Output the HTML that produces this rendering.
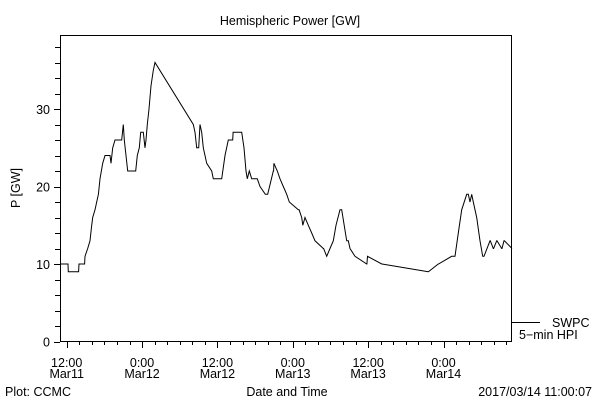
<!DOCTYPE html>
<html><head><meta charset="utf-8"><style>
html,body{margin:0;padding:0;background:#fff}
svg{display:block}
text{font-family:"Liberation Sans",sans-serif;font-size:12.5px;fill:#000}
</style></head><body>
<svg id="chart" width="600" height="400" viewBox="0 0 600 400">
<text x="290" y="25" text-anchor="middle" font-size="14">Hemispheric Power [GW]</text>
<rect x="60.5" y="35.5" width="451" height="306" fill="none" stroke="#000"/>
<g id="yaxis"></g>
<g id="xaxis"></g>
<text transform="translate(20,188) rotate(-90)" text-anchor="middle">P [GW]</text>
<text x="287" y="396" text-anchor="middle">Date and Time</text>
<text x="5" y="396">Plot: CCMC</text>
<text x="592" y="396" text-anchor="end">2017/03/14 11:00:07</text>
<polyline id="series" fill="none" stroke="#000" stroke-width="1"/>
<g>
<line x1="512" y1="322.5" x2="540" y2="322.5" stroke="#000"/>
<text x="552" y="327">SWPC</text>
<text x="519" y="339">5−min HPI</text>
</g>
</svg>
<script>
const times=[-0.96,0.2,0.25,1.9,1.96,2.85,2.91,3.34,3.71,3.98,4.14,4.51,4.78,5.04,5.30,5.73,6.10,6.9,7.05,7.32,7.69,8.76,9.01,9.17,9.44,9.71,10.08,10.99,11.24,11.56,11.78,12.2,12.47,12.63,12.83,13.1,13.42,13.79,14.06,20.16,20.43,20.7,21.02,21.23,21.5,21.75,22.02,22.29,23.09,23.34,24.68,25.2,25.73,26.43,26.5,27.87,28.23,28.55,28.76,29.08,29.46,30.35,30.78,31.62,32.0,32.9,32.95,33.0,33.54,33.96,34.49,35.03,35.45,36.88,37.0,37.42,37.6,37.95,38.47,39.01,39.54,40.86,40.9,41.4,41.93,42.45,42.88,43.52,43.79,44.59,44.84,45.11,45.91,47.77,47.8,47.9,50.16,50.2,57.58,57.6,59.17,59.2,61.3,61.83,62.36,62.9,63.69,63.95,64.22,64.49,64.75,65.29,65.81,66.24,66.45,67.4,67.45,67.93,67.98,68.47,68.52,69.27,69.32,69.64,69.7,70.91];
const values=[10,10,9,9,10,10,11,12,13,15,16,17,18,19,21,23,24,24,23,25,26,26,28,26,24,22,22,22,24,25,27,27,25,26,28,30,33,35,36,28,27,25,25,28,27,25,24,23,22,21,21,24,26,26,27,27,25,22,21,22,21,21,20,19,19,22,22,23,22,21,20,19,18,17,17,16,15,16,15,14,13,12,12,11,12,13,15,17,17,13,13,12,11,10,10,11,10,10,9,9,10,10,11,11,14,17,19,19,18,19,18,16,13,11,11,13,13,12,12,13,13,12,12,13,13,12,12];
const yTicks=[0,10,20,30];
const xTickHours=[0,12,24,36,48,60];
const xTickTop=["12:00","0:00","12:00","0:00","12:00","0:00"];
const xTickBottom=["Mar11","Mar12","Mar12","Mar13","Mar13","Mar14"];
const NS="http://www.w3.org/2000/svg";
function X(h){return 66.7+h*6.28;}
function Y(v){return 341.5-v*7.75;}
const pts=times.map((t,i)=>X(t).toFixed(1)+","+Y(values[i]).toFixed(1)).join(" ");
document.getElementById("series").setAttribute("points",pts);
const ya=document.getElementById("yaxis");
for(let v=0;v<=38;v+=2){
  const l=document.createElementNS(NS,"line");
  
  
  const major=v%10===0;
  l.setAttribute("x1",major?54:55);l.setAttribute("x2",60);
  l.setAttribute("y1",Math.round(Y(v))+0.5);l.setAttribute("y2",Math.round(Y(v))+0.5);
  l.setAttribute("stroke","#000");ya.appendChild(l);
}
yTicks.forEach(v=>{
  const t=document.createElementNS(NS,"text");
  
  
  t.setAttribute("x",50);t.setAttribute("y",Y(v)+5);t.setAttribute("text-anchor","end");
  t.textContent=v;ya.appendChild(t);
});
const xa=document.getElementById("xaxis");
for(let h=0;h<=70;h+=2){
  const l=document.createElementNS(NS,"line");
  
  
  const major=h%12===0;
  const x=Math.round(X(h))+0.5;
  l.setAttribute("x1",x);l.setAttribute("x2",x);
  l.setAttribute("y1",341);l.setAttribute("y2",major?348:345);
  l.setAttribute("stroke","#000");xa.appendChild(l);
}
xTickHours.forEach((h,i)=>{
  const t=document.createElementNS(NS,"text");
  
  
  t.setAttribute("x",X(h));t.setAttribute("y",367);t.setAttribute("text-anchor","middle");
  t.textContent=xTickTop[i];xa.appendChild(t);
  const d=document.createElementNS(NS,"text");
  
  
  d.setAttribute("x",X(h));d.setAttribute("y",378);d.setAttribute("text-anchor","middle");
  d.textContent=xTickBottom[i];xa.appendChild(d);
});
</script>
</body></html>
